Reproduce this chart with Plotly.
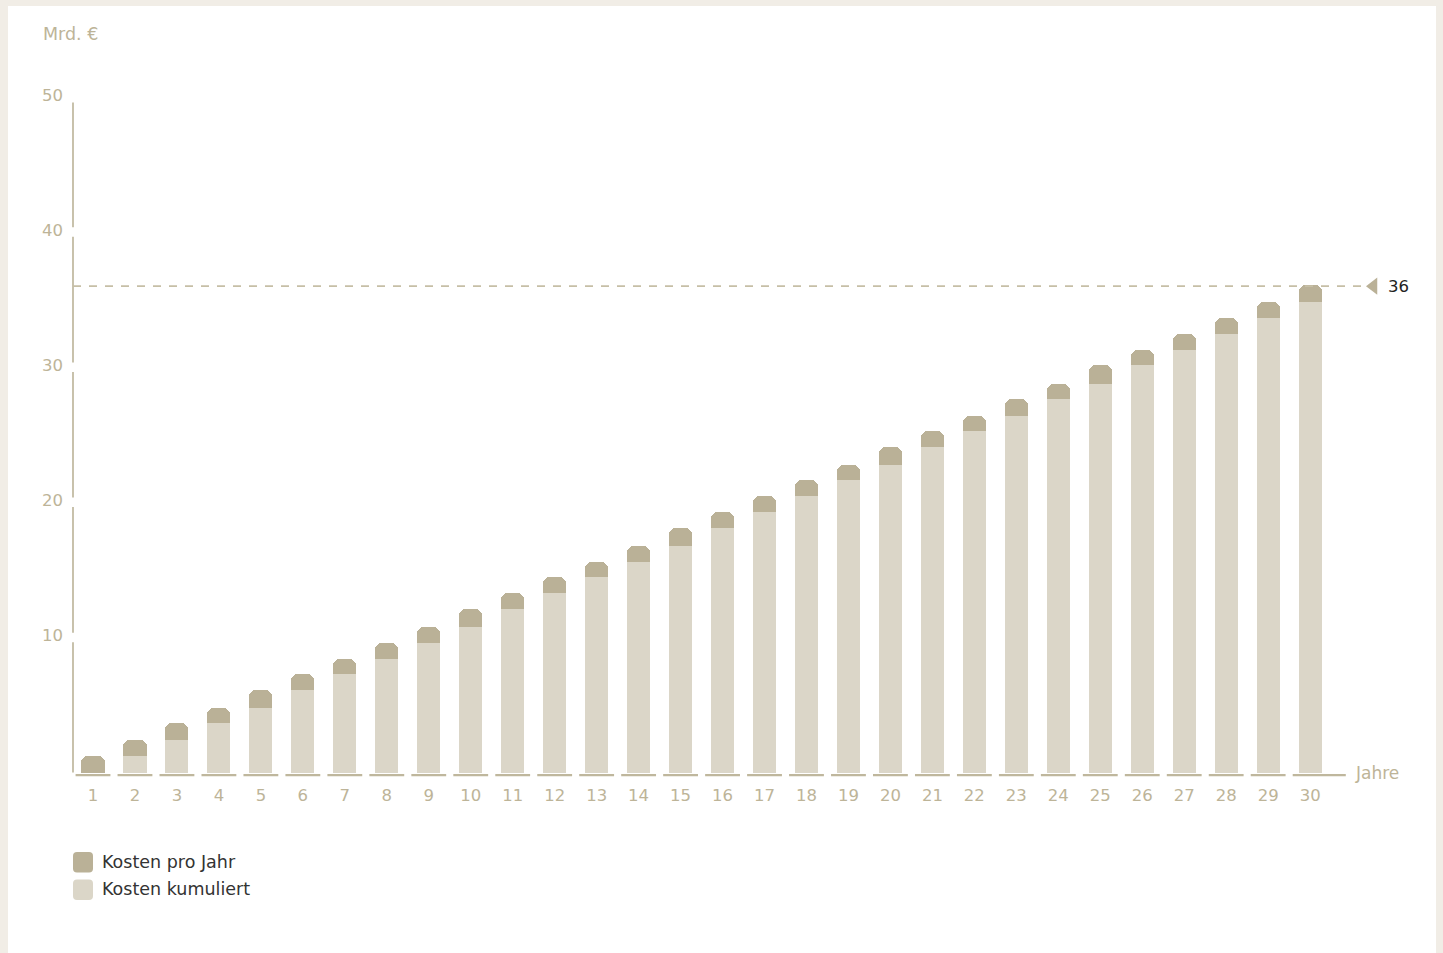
import plotly.graph_objects as go

# ---------------- data ----------------
jahre = [1, 2, 3, 4, 5, 6, 7, 8, 9, 10, 11, 12, 13, 14, 15,
         16, 17, 18, 19, 20, 21, 22, 23, 24, 25, 26, 27, 28, 29, 30]
jahr_labels = [str(j) for j in jahre]

# cumulated costs up to the previous year (light bars), Mrd. €
kosten_kumuliert = [0.00, 1.23, 2.44, 3.63, 4.78, 6.09, 7.28, 8.39, 9.59, 10.78,
                    12.09, 13.27, 14.46, 15.57, 16.75, 18.08, 19.27, 20.45, 21.64, 22.75,
                    24.08, 25.26, 26.40, 27.61, 28.79, 30.13, 31.24, 32.45, 33.63, 34.82]
# costs of the year itself (dark top segment), Mrd. €
kosten_pro_jahr = [1.23, 1.21, 1.19, 1.15, 1.31, 1.19, 1.11, 1.20, 1.19, 1.31,
                   1.18, 1.19, 1.11, 1.18, 1.33, 1.19, 1.18, 1.19, 1.11, 1.33,
                   1.18, 1.14, 1.21, 1.18, 1.34, 1.11, 1.21, 1.18, 1.19, 1.28]
y_ticks = [10, 20, 30, 40, 50]
marke_wert = 36
marke_label = "36"

# ---------------- style ----------------
W, H = 1443, 953
Y0_PX = 772.4
Y_PPU = 13.51
X_PPU = 41.97
Y_MAX = 50
ML, MR = 66, 23
MT = round(Y0_PX - Y_MAX * Y_PPU)
MB = round(H - (Y0_PX + 0.78 * Y_PPU))
PW, PH = W - ML - MR, H - MT - MB
Y_MIN = Y_MAX - PH / Y_PPU
X_MIN = 1 - (93 - ML) / X_PPU
X_MAX = X_MIN + PW / X_PPU
AXIS_X = 1 - 20 / X_PPU

DARK = "#bab197"
LIGHT = "#dbd6c8"
TICK = "#bdb498"
LINE = "#bfb79d"
DASH = "#c6bfa6"
BEIGE = "#f1ede6"
TEXT = "#333333"
FONT = "DejaVu Sans"


def px_x(px):
    return (px - ML) / PW


def px_y(py):
    return 1 - (py - MT) / PH


totals = [k + p for k, p in zip(kosten_kumuliert, kosten_pro_jahr)]

fig = go.Figure()

fig.add_trace(go.Bar(
    x=jahre, y=totals, name="Kosten pro Jahr",
    marker=dict(color=DARK, cornerradius=7, line=dict(width=0)),
    width=0.55, showlegend=False,
))
fig.add_trace(go.Bar(
    x=jahre, y=kosten_kumuliert, name="Kosten kumuliert",
    marker=dict(color=LIGHT, cornerradius=7, line=dict(width=0)),
    width=0.55, showlegend=False,
))

# segmented baseline under each year
bx, by = [], []
for i, j in enumerate(jahre):
    right = j + 0.415 if i < len(jahre) - 1 else j + 0.85
    bx += [j - 0.415, right, None]
    by += [-0.2, -0.2, None]
fig.add_trace(go.Scatter(x=bx, y=by, mode="lines", line=dict(color=LINE, width=2.3),
                         hoverinfo="skip", showlegend=False))

# segmented y axis line, broken at the ticks
ax, ay = [], []
stops = [0] + y_ticks
for a, b in zip(stops[:-1], stops[1:]):
    lo = a + 0.35 if a > 0 else a
    hi = b - 0.4 if b == Y_MAX else b - 0.35
    ax += [AXIS_X, AXIS_X, None]
    ay += [lo, hi, None]
fig.add_trace(go.Scatter(x=ax, y=ay, mode="lines", line=dict(color=LINE, width=1.7),
                         hoverinfo="skip", showlegend=False))

# dashed reference line at 36 with marker
end_x = 1 + (1365 - 93) / X_PPU
fig.add_trace(go.Scatter(x=[AXIS_X, end_x], y=[marke_wert, marke_wert], mode="lines",
                         line=dict(color=DASH, width=1.6, dash="8px,8px"),
                         hoverinfo="skip", showlegend=False))
fig.add_trace(go.Scatter(x=[1 + (1373.5 - 93) / X_PPU], y=[marke_wert], mode="markers",
                         marker=dict(symbol="triangle-left", size=15, color=DARK),
                         hoverinfo="skip", showlegend=False, cliponaxis=False))

annotations = [
    dict(x=1 + (1386 - 93) / X_PPU, y=marke_wert, xref="x", yref="y", text=marke_label,
         showarrow=False, xanchor="left", yanchor="middle",
         font=dict(family=FONT, size=16.5, color="#222222")),
    dict(x=1 + (1353 - 93) / X_PPU, y=-0.05, xref="x", yref="y", text="Jahre",
         showarrow=False, xanchor="left", yanchor="middle",
         font=dict(family=FONT, size=17, color=TICK)),
    dict(x=px_x(41), y=px_y(34), xref="paper", yref="paper", text="Mrd. €",
         showarrow=False, xanchor="left", yanchor="middle",
         font=dict(family=FONT, size=17.5, color=TICK)),
    dict(x=px_x(100), y=px_y(862.5), xref="paper", yref="paper", text="Kosten pro Jahr",
         showarrow=False, xanchor="left", yanchor="middle",
         font=dict(family=FONT, size=17.5, color=TEXT)),
    dict(x=px_x(100), y=px_y(889.5), xref="paper", yref="paper", text="Kosten kumuliert",
         showarrow=False, xanchor="left", yanchor="middle",
         font=dict(family=FONT, size=17.5, color=TEXT)),
]


def rounded_rect(x0, y0, x1, y1, r):
    # pixel coords -> paper path with rounded corners
    X = lambda v: px_x(v)
    Y = lambda v: px_y(v)
    return (f"M {X(x0 + r)} {Y(y0)} L {X(x1 - r)} {Y(y0)} Q {X(x1)} {Y(y0)} {X(x1)} {Y(y0 + r)} "
            f"L {X(x1)} {Y(y1 - r)} Q {X(x1)} {Y(y1)} {X(x1 - r)} {Y(y1)} "
            f"L {X(x0 + r)} {Y(y1)} Q {X(x0)} {Y(y1)} {X(x0)} {Y(y1 - r)} "
            f"L {X(x0)} {Y(y0 + r)} Q {X(x0)} {Y(y0)} {X(x0 + r)} {Y(y0)} Z")


shapes = [
    dict(type="rect", xref="paper", yref="paper", x0=px_x(8), x1=px_x(1436),
         y0=px_y(960), y1=px_y(6), fillcolor="white", line=dict(width=0), layer="below"),
    dict(type="path", xref="paper", yref="paper", path=rounded_rect(73, 852, 93, 872.5, 4),
         fillcolor=DARK, line=dict(width=0)),
    dict(type="path", xref="paper", yref="paper", path=rounded_rect(73, 879.5, 93, 900, 4),
         fillcolor=LIGHT, line=dict(width=0)),
]

fig.update_layout(
    width=W, height=H, autosize=False,
    margin=dict(l=ML, r=MR, t=MT, b=MB, pad=0),
    paper_bgcolor=BEIGE, plot_bgcolor="rgba(0,0,0,0)",
    barmode="overlay", bargap=0,
    font=dict(family=FONT, size=16, color=TICK),
    xaxis=dict(range=[X_MIN, X_MAX], tickvals=jahre, ticktext=jahr_labels,
               showgrid=False, zeroline=False, showline=False, ticks="",
               tickfont=dict(family=FONT, size=16.5, color=TICK)),
    yaxis=dict(range=[Y_MIN, Y_MAX], tickvals=y_ticks, ticktext=[str(v) for v in y_ticks],
               showgrid=False, zeroline=False, showline=False, ticks="",
               ticklabelstandoff=2, ticklabelshift=-2,
               tickfont=dict(family=FONT, size=16.5, color=TICK)),
    annotations=annotations, shapes=shapes,
    hovermode=False, showlegend=False,
)

fig.write_html("out.html", config={"displayModeBar": False},
               post_script="document.body.style.margin='0';document.body.style.overflow='hidden';")
